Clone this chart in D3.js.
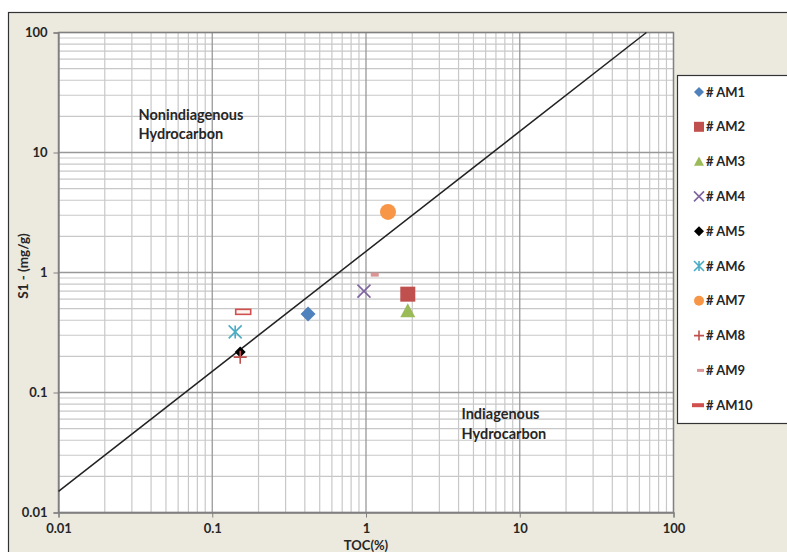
<!DOCTYPE html>
<html>
<head>
<meta charset="utf-8">
<script src="https://cdn.jsdelivr.net/npm/d3@7"></script>
<style>
  body { margin: 0; background: #fff; }
  svg text { font-family: Lato, "Open Sans", sans-serif; font-weight: bold; fill: #262626; }
</style>
</head>
<body>
<svg id="chart"></svg>
<script>
// samples
const samples = ["# AM1", "# AM2", "# AM3", "# AM4", "# AM5", "# AM6", "# AM7", "# AM8", "# AM9", "# AM10"];
const tocValues = [0.42, 1.87, 1.87, 0.97, 0.152, 0.141, 1.39, 0.152, 1.14, 0.159];
const s1Values = [0.45, 0.66, 0.48, 0.70, 0.217, 0.32, 3.2, 0.197, 0.96, 0.47];
const tickValues = [0.01, 0.1, 1, 10, 100];
const tickLabels = ["0.01", "0.1", "1", "10", "100"];
const ratioLine = 1.5; // S1/TOC = 1.5 boundary

const width = 787, height = 552;
const margin = { top: 32.5, right: 113.5, bottom: 39.5, left: 58.5 };
const chartWidth = width - margin.left - margin.right;
const chartHeight = height - margin.top - margin.bottom;

const styles = [
  { shape: "diamond", color: "#4F81BD", size: 15 },
  { shape: "square", color: "#C0504D", size: 15 },
  { shape: "triangle", color: "#9BBB59", size: 15 },
  { shape: "x", color: "#8064A2", size: 13 },
  { shape: "diamond", color: "#000000", size: 11 },
  { shape: "star", color: "#4BACC6", size: 13 },
  { shape: "circle", color: "#F79646", size: 16 },
  { shape: "plus", color: "#C0504D", size: 13 },
  { shape: "dash", color: "#D99694", size: 8 },
  { shape: "bar", color: "#D0504D", size: 15 }
];

const svg = d3.select("#chart").attr("width", width).attr("height", height);

// outer chart area
svg.append("rect")
  .attr("x", 8.5).attr("y", 12.5)
  .attr("width", width).attr("height", height)
  .attr("fill", "#ECE9DF")
  .attr("stroke", "#333").attr("stroke-width", 1.2);

const g = svg.append("g").attr("transform", `translate(${margin.left},${margin.top})`);

const xScale = d3.scaleLog().domain([0.01, 100]).range([0, chartWidth]);
const yScale = d3.scaleLog().domain([0.01, 100]).range([chartHeight, 0]);

g.append("rect").attr("width", chartWidth).attr("height", chartHeight).attr("fill", "#fff");

// minor and major grid
let minor = [];
for (let d = 0.01; d < 100; d *= 10) {
  for (let k = 2; k <= 9; k++) minor.push(+(d * k).toPrecision(3));
}
g.selectAll(".vminor").data(minor).enter().append("line")
  .attr("x1", d => xScale(d)).attr("x2", d => xScale(d))
  .attr("y1", 0).attr("y2", chartHeight)
  .attr("stroke", "#c8c8c8").attr("stroke-width", 1.2);
g.selectAll(".hminor").data(minor).enter().append("line")
  .attr("y1", d => yScale(d)).attr("y2", d => yScale(d))
  .attr("x1", 0).attr("x2", chartWidth)
  .attr("stroke", "#c8c8c8").attr("stroke-width", 1.2);
g.selectAll(".vmajor").data(tickValues).enter().append("line")
  .attr("x1", d => xScale(d)).attr("x2", d => xScale(d))
  .attr("y1", 0).attr("y2", chartHeight)
  .attr("stroke", "#999").attr("stroke-width", 1.3);
g.selectAll(".hmajor").data(tickValues).enter().append("line")
  .attr("y1", d => yScale(d)).attr("y2", d => yScale(d))
  .attr("x1", 0).attr("x2", chartWidth)
  .attr("stroke", "#999").attr("stroke-width", 1.3);

g.append("rect").attr("width", chartWidth).attr("height", chartHeight)
  .attr("fill", "none").attr("stroke", "#808080").attr("stroke-width", 1.3);

// axes
const xAxis = g.append("g").attr("transform", `translate(0,${chartHeight})`)
  .call(d3.axisBottom(xScale).tickValues(tickValues).tickFormat((d, i) => tickLabels[i]).tickSize(5).tickPadding(6));
const yAxis = g.append("g")
  .call(d3.axisLeft(yScale).tickValues(tickValues).tickFormat((d, i) => tickLabels[i]).tickSize(5).tickPadding(6));
[xAxis, yAxis].forEach(a => {
  a.select(".domain").attr("stroke", "#808080").attr("stroke-width", 1.3);
  a.selectAll(".tick line").attr("stroke", "#808080");
  a.selectAll(".tick text").style("font-size", "13px").attr("fill", "#262626");
});

svg.append("text").attr("x", margin.left + xScale(1)).attr("y", 550)
  .attr("text-anchor", "middle").style("font-size", "13px").text("TOC(%)");
svg.append("text").attr("transform", "translate(27.5,266) rotate(-90)")
  .attr("text-anchor", "middle").style("font-size", "13.5px").text("S1 - (mg/g)");

// boundary line S1 = 1.5 * TOC
const xEnd = 100 / ratioLine;
g.append("line")
  .attr("x1", xScale(0.01)).attr("y1", yScale(0.01 * ratioLine))
  .attr("x2", xScale(xEnd)).attr("y2", yScale(100))
  .attr("stroke", "#222").attr("stroke-width", 1.5);

// region labels
g.append("text").attr("x", 80).attr("y", 87).style("font-size", "14.5px").text("Nonindiagenous");
g.append("text").attr("x", 80).attr("y", 106).style("font-size", "14.5px").text("Hydrocarbon");
g.append("text").attr("x", 403).attr("y", 386.5).style("font-size", "14.5px").text("Indiagenous");
g.append("text").attr("x", 403).attr("y", 406).style("font-size", "14.5px").text("Hydrocarbon");

function drawMarker(sel, st) {
  const s = st.size, h = s / 2;
  if (st.shape === "diamond") {
    sel.append("path").attr("d", `M0,${-h}L${h},0L0,${h}L${-h},0Z`).attr("fill", st.color);
  } else if (st.shape === "square") {
    sel.append("rect").attr("x", -h).attr("y", -h).attr("width", s).attr("height", s).attr("fill", st.color);
  } else if (st.shape === "triangle") {
    sel.append("path").attr("d", `M0,${-h}L${h},${h * 0.85}L${-h},${h * 0.85}Z`).attr("fill", st.color);
  } else if (st.shape === "x") {
    sel.append("path").attr("d", `M${-h},${-h}L${h},${h}M${-h},${h}L${h},${-h}`)
      .attr("stroke", st.color).attr("stroke-width", 1.6);
  } else if (st.shape === "star") {
    sel.append("path").attr("d", `M${-h},${-h}L${h},${h}M${-h},${h}L${h},${-h}M0,${-h}L0,${h}`)
      .attr("stroke", st.color).attr("stroke-width", 1.6);
  } else if (st.shape === "circle") {
    sel.append("circle").attr("r", h).attr("fill", st.color);
  } else if (st.shape === "plus") {
    sel.append("path").attr("d", `M${-h},0L${h},0M0,${-h}L0,${h}`)
      .attr("stroke", st.color).attr("stroke-width", 1.6);
  } else if (st.shape === "dash") {
    sel.append("rect").attr("x", -h).attr("y", -2).attr("width", s).attr("height", 4).attr("fill", st.color);
  } else if (st.shape === "bar") {
    sel.append("rect").attr("x", -h).attr("y", -2.5).attr("width", s).attr("height", 5)
      .attr("fill", "#fdf3f0").attr("stroke", st.color).attr("stroke-width", 1.6);
  }
}

samples.forEach((name, i) => {
  const m = g.append("g").attr("transform", `translate(${xScale(tocValues[i])},${yScale(s1Values[i])})`);
  drawMarker(m, styles[i]);
});

// legend
const legend = svg.append("g");
legend.append("rect").attr("x", 677.5).attr("y", 75.5).attr("width", 120).attr("height", 348)
  .attr("fill", "#fff").attr("stroke", "#333").attr("stroke-width", 1.2);
samples.forEach((name, i) => {
  const y = 92 + i * 34.8;
  const st = styles[i];
  const lst = Object.assign({}, st, { size: Math.min(st.size, 10) });
  if (st.shape === "bar") {
    legend.append("rect").attr("x", 692).attr("y", y - 2).attr("width", 12).attr("height", 4).attr("fill", st.color);
  } else if (st.shape === "dash") {
    legend.append("rect").attr("x", 697).attr("y", y - 1.5).attr("width", 7).attr("height", 3).attr("fill", st.color);
  } else {
    drawMarker(legend.append("g").attr("transform", `translate(699,${y})`), lst);
  }
  legend.append("text").attr("x", 706).attr("y", y).attr("dy", "0.35em")
    .style("font-size", "13px").text(name);
});
</script>
</body>
</html>
